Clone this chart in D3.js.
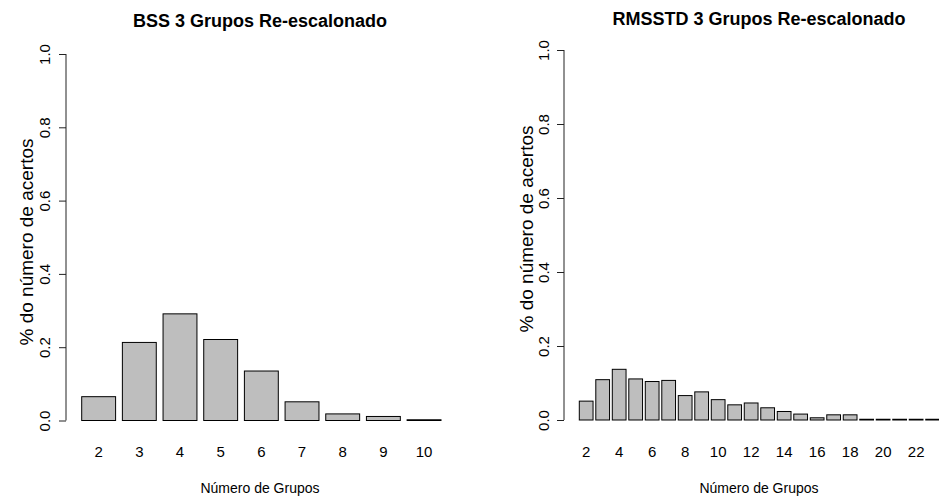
<!DOCTYPE html>
<html>
<head>
<meta charset="utf-8">
<script src="https://cdn.jsdelivr.net/npm/d3@7"></script>
<style>
  html, body { margin: 0; padding: 0; background: #fff; }
  svg { display: block; font-family: "Liberation Sans", Arial, sans-serif; }
</style>
</head>
<body>
<svg id="chart" width="939" height="498"></svg>
<script>
// Proportion of correct hits by number of groups
const bssGroups = [2, 3, 4, 5, 6, 7, 8, 9, 10];
const bssValues = [0.065, 0.213, 0.291, 0.221, 0.135, 0.051, 0.018, 0.011, 0.002];

const rmsstdGroups = [2, 3, 4, 5, 6, 7, 8, 9, 10, 11, 12, 13, 14, 15, 16, 17, 18, 19, 20, 21, 22, 23];
const rmsstdValues = [0.051, 0.109, 0.137, 0.111, 0.104, 0.107, 0.066, 0.076, 0.055, 0.041, 0.046,
                      0.033, 0.023, 0.016, 0.006, 0.014, 0.014, 0.002, 0.002, 0.002, 0.002, 0.002];
const rmsstdTickLabels = [2, 4, 6, 8, 10, 12, 14, 16, 18, 20, 22];

const yTicks = [0, 0.2, 0.4, 0.6, 0.8, 1.0];

const svg = d3.select("#chart");

function drawPanel(p) {
  const g = svg.append("g");

  const x = d3.scaleBand()
    .domain(p.groups)
    .range([p.barLeft, p.barRight])
    .paddingInner(0.2 / 1.2)
    .paddingOuter(0);

  const y = d3.scaleLinear().domain([0, 1]).range([p.y0, p.y1]);

  // bars
  g.selectAll("rect.bar")
    .data(p.values)
    .join("rect")
    .attr("class", "bar")
    .attr("x", (d, i) => x(p.groups[i]))
    .attr("width", x.bandwidth())
    .attr("y", d => y(d))
    .attr("height", d => y(0) - y(d))
    .attr("fill", "#bebebe")
    .attr("stroke", "#000")
    .attr("stroke-width", 1);

  // y axis
  const yAxis = d3.axisLeft(y)
    .tickValues(yTicks)
    .tickFormat(d3.format(".1f"))
    .tickSize(7)
    .tickPadding(0);
  const ya = g.append("g")
    .attr("transform", `translate(${p.axisX},0)`)
    .call(yAxis);
  ya.select(".domain").attr("d", `M0,${y(0)}V${y(1)}`).attr("stroke", "#222");
  ya.selectAll(".tick line").attr("stroke", "#222");
  ya.selectAll(".tick text")
    .attr("x", null).attr("dy", null)
    .attr("text-anchor", "middle")
    .attr("transform", `translate(${p.tickLabelX - p.axisX},0) rotate(-90)`)
    .attr("font-size", 15)
    .attr("fill", "#000")
    .attr("font-family", "Liberation Sans, Arial, sans-serif");

  // x category labels (no axis line)
  const xa = g.append("g")
    .attr("transform", `translate(0,${p.xTickBaseline})`)
    .call(d3.axisBottom(x).tickValues(p.tickLabels).tickSize(0).tickPadding(0));
  xa.select(".domain").remove();
  xa.selectAll(".tick text")
    .attr("y", 0).attr("dy", null)
    .attr("font-size", 15)
    .attr("fill", "#000")
    .attr("font-family", "Liberation Sans, Arial, sans-serif");

  // titles
  g.append("text")
    .attr("x", p.titleX).attr("y", p.titleY)
    .attr("text-anchor", "middle")
    .attr("font-weight", "bold")
    .attr("font-size", 18)
    .text(p.title);

  g.append("text")
    .attr("x", p.titleX).attr("y", p.xTitleBaseline)
    .attr("text-anchor", "middle")
    .attr("font-size", 14)
    .text("Número de Grupos");

  g.append("text")
    .attr("transform", `translate(${p.yTitleX},${p.yTitleY}) rotate(-90)`)
    .attr("text-anchor", "middle")
    .attr("font-size", 19)
    .text("% do número de acertos");
}

drawPanel({
  title: "BSS 3 Grupos Re-escalonado",
  groups: bssGroups,
  values: bssValues,
  tickLabels: bssGroups,
  barLeft: 81.7, barRight: 441,
  y0: 420.5, y1: 54,
  axisX: 66, tickLabelX: 50,
  xTickBaseline: 457, xTitleBaseline: 493,
  titleX: 260, titleY: 27,
  yTitleX: 33, yTitleY: 242
});

drawPanel({
  title: "RMSSTD 3 Grupos Re-escalonado",
  groups: rmsstdGroups,
  values: rmsstdValues,
  tickLabels: rmsstdTickLabels,
  barLeft: 579.3, barRight: 939.5,
  y0: 420, y1: 50,
  axisX: 564, tickLabelX: 549,
  xTickBaseline: 457, xTitleBaseline: 493,
  titleX: 759, titleY: 25,
  yTitleX: 533, yTitleY: 229
});
</script>
</body>
</html>
